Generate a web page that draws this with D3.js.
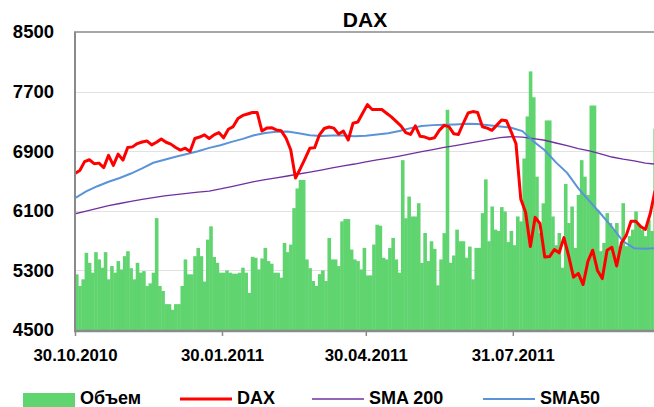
<!DOCTYPE html>
<html lang="ru">
  <head>
    <meta charset="UTF-8" />
    <title>DAX</title>
    <script src="https://cdn.jsdelivr.net/npm/d3@7"></script>
    <style>
      body { margin: 0; background: #fff; }
      svg { display: block; font-family: 'Liberation Sans', Arial, sans-serif; font-weight: bold; }
    </style>
  </head>
  <body>
    <div id="container"></div>
    <script>
      const startDate = '30.10.2010'
      const volumeStep = 2
      const daxStep = 3
      const smaStep = 7

      const volume = [
        5247, 5091, 5180, 5536, 5402, 5269, 5545, 5447, 5336, 5545,
        5180, 5358, 5270, 5425, 5313, 5491, 5558, 5330, 5180, 5402,
        5270, 5290, 5091, 5126, 5269, 6002, 5091, 5024, 4847, 4847,
        4771, 4847, 4847, 5091, 5447, 5247, 5247, 5491, 5600, 5491,
        5150, 5713, 5891, 5480, 5402, 5269, 5269, 5300, 5269, 5256,
        5256, 5269, 5336, 5269, 4998, 5482, 5469, 5313, 5460, 5602,
        5425, 5390, 5269, 5269, 5202, 5669, 5545, 5647, 6136, 6400,
        6513, 6513, 5447, 5330, 5158, 5091, 5250, 5300, 5158, 5736,
        5447, 5447, 5358, 5958, 5989, 5989, 5580, 5447, 5425, 5313,
        5602, 5233, 5233, 5647, 5913, 5900, 5469, 5447, 5600, 5736,
        5447, 5269, 6780, 6000, 6291, 6024, 6024, 6202, 5400, 5802,
        5425, 5691, 5589, 5100, 5447, 5800, 7456, 5402, 5500, 5847,
        5691, 5691, 5470, 5620, 5180, 5602, 5602, 6069, 6522, 5691,
        6158, 5847, 5830, 6150, 6091, 5680, 5830, 5638, 6024, 5958,
        6802, 7367, 7971, 7624, 6558, 5802, 6200, 7313, 7313, 6024,
        5638, 5802, 5336, 6460, 5936, 6158, 5602, 6313, 6780, 6558,
        6313, 7513, 7513, 6113, 5558, 5669, 6069, 5936, 5847, 5936,
        5625, 6202, 5625, 5760, 5847, 6091, 5913, 5847, 5760, 5980,
        5830, 7202
      ]

      const dax = [
        6602, 6640, 6760, 6785, 6733, 6740, 6680, 6845, 6710, 6860,
        6780, 6950, 6958, 7002, 7024, 7038, 6985, 7020, 7065, 7020,
        6995, 6950, 6915, 6940, 6895, 7070, 7090, 7120, 7070, 7120,
        7150, 7080, 7195, 7230, 7340, 7380, 7400, 7420, 7420, 7170,
        7210, 7215, 7185, 7175, 7080, 6920, 6540, 6665, 6800, 6940,
        6948, 7120, 7205, 7224, 7210, 7130, 7170, 7050, 7275, 7291,
        7410, 7525, 7460, 7460, 7460, 7410, 7360, 7300, 7240, 7150,
        7125, 7240, 7100, 7090, 7065, 7080, 7180, 7247, 7230, 7135,
        7125, 7275, 7412, 7432, 7420, 7228, 7210, 7180, 7250, 7320,
        7310, 7160, 7000, 6260, 6080, 5620, 6012, 5930, 5480, 5485,
        5580, 5536, 5740, 5490, 5210, 5260, 5110, 5420, 5571, 5300,
        5190, 5570, 5610, 5360, 5670, 5770, 5960, 5960, 5890, 5850,
        6060, 6370
      ]

      const sma200 = [
        6060, 6096, 6133, 6168, 6198, 6226, 6253, 6278, 6300, 6318,
        6335, 6350, 6365, 6393, 6425, 6458, 6491, 6517, 6542, 6567,
        6594, 6620, 6647, 6675, 6702, 6728, 6758, 6783, 6808, 6835,
        6865, 6893, 6922, 6950, 6975, 7002, 7030, 7055, 7082, 7095,
        7090, 7070, 7047, 7010, 6975, 6936, 6905, 6865, 6822, 6793,
        6770, 6740, 6725
      ]

      const sma50 = [
        6269, 6360, 6430, 6490, 6540, 6600, 6670, 6745, 6785, 6826,
        6862, 6900, 6945, 6980, 7025, 7065, 7113, 7145, 7162, 7165,
        7140, 7115, 7105, 7110, 7110, 7102, 7109, 7125, 7140, 7170,
        7210, 7238, 7250, 7255, 7260, 7268, 7265, 7247, 7232, 7215,
        7170, 7030, 6913, 6750, 6610, 6400, 6230, 6060, 5885, 5690,
        5598, 5590, 5598
      ]

      const yTicks = [4500, 5300, 6100, 6900, 7700, 8500]
      const xTicks = ['30.10.2010', '30.01.2011', '30.04.2011', '31.07.2011']
      const endDate = '28.10.2011'

      const legendItems = [
        { name: 'Объем', type: 'bar', color: '#5fd46f' },
        { name: 'DAX', type: 'line', color: '#ff0000', width: 3 },
        { name: 'SMA 200', type: 'line', color: '#7030a0', width: 1.3 },
        { name: 'SMA50', type: 'line', color: '#5b93d9', width: 2 }
      ]

      // chart size and margins
      const width = 654
      const height = 407
      const marginTop = 32
      const marginLeft = 75
      const plotRight = 655
      const plotBottom = 330

      const parse = d3.timeParse('%d.%m.%Y')
      const fmt = d3.timeFormat('%d.%m.%Y')
      const t0 = parse(startDate)
      const dateAt = (i, step) => d3.timeDay.offset(t0, i * step)

      const x = d3.scaleTime()
        .domain([t0, parse(endDate)])
        .range([marginLeft, plotRight])

      const y = d3.scaleLinear()
        .domain([4500, 8500])
        .range([plotBottom, marginTop])

      const svg = d3.create('svg')
        .attr('width', width)
        .attr('height', height)
        .attr('viewBox', [0, 0, width, height])

      svg.append('defs').append('clipPath')
        .attr('id', 'plot-clip')
        .append('rect')
        .attr('x', marginLeft)
        .attr('y', marginTop - 5)
        .attr('width', plotRight - marginLeft)
        .attr('height', plotBottom - marginTop + 5)

      // title
      svg.append('text')
        .attr('x', 365)
        .attr('y', 27)
        .attr('text-anchor', 'middle')
        .attr('font-size', 21)
        .attr('fill', '#000')
        .text('DAX')

      // gridlines
      svg.append('g')
        .selectAll('line')
        .data(yTicks.slice(1, -1))
        .join('line')
        .attr('x1', marginLeft)
        .attr('x2', plotRight)
        .attr('y1', d => Math.round(y(d)) + 0.5)
        .attr('y2', d => Math.round(y(d)) + 0.5)
        .attr('stroke', '#e2e2e2')
        .attr('stroke-width', 1.2)

      const plot = svg.append('g').attr('clip-path', 'url(#plot-clip)')

      // volume bars
      plot.append('g')
        .attr('fill', legendItems[0].color)
        .selectAll('rect')
        .data(volume)
        .join('rect')
        .attr('x', (d, i) => x(dateAt(i, volumeStep)))
        .attr('width', (d, i) => x(dateAt(i + 1, volumeStep)) - x(dateAt(i, volumeStep)) + 0.4)
        .attr('y', d => y(d))
        .attr('height', d => y(4500) - y(d))

      const line = step => d3.line()
        .x((d, i) => x(dateAt(i, step)))
        .y(d => y(d))

      plot.append('path')
        .datum(sma200)
        .attr('fill', 'none')
        .attr('stroke', legendItems[2].color)
        .attr('stroke-width', legendItems[2].width)
        .attr('d', line(smaStep))

      plot.append('path')
        .datum(sma50)
        .attr('fill', 'none')
        .attr('stroke', legendItems[3].color)
        .attr('stroke-width', legendItems[3].width)
        .attr('d', line(smaStep))

      plot.append('path')
        .datum(dax)
        .attr('fill', 'none')
        .attr('stroke', legendItems[1].color)
        .attr('stroke-width', legendItems[1].width)
        .attr('stroke-linejoin', 'round')
        .attr('d', line(daxStep))

      // frame: top border
      svg.append('line')
        .attr('x1', marginLeft - 1).attr('x2', width)
        .attr('y1', marginTop).attr('y2', marginTop)
        .attr('stroke', '#8a8a8a').attr('stroke-width', 1.5)

      // y axis
      svg.append('g')
        .attr('id', 'y-axis')
        .attr('transform', `translate(${marginLeft}, 0)`)
        .call(d3.axisLeft(y)
          .tickValues(yTicks)
          .tickFormat(d3.format('d'))
          .tickSize(0)
          .tickPadding(21))
        .call(g => g.select('.domain')
          .attr('stroke', '#8a8a8a')
          .attr('stroke-width', 2)
          .attr('d', `M0,${marginTop}V${plotBottom + 1}`))
        .call(g => g.selectAll('text')
          .attr('font-family', null)
          .attr('font-size', 18.5)
          .attr('fill', '#000'))

      // x axis
      svg.append('g')
        .attr('id', 'x-axis')
        .attr('transform', `translate(0, ${plotBottom + 1})`)
        .call(d3.axisBottom(x)
          .tickValues(xTicks.map(parse))
          .tickFormat(fmt)
          .tickSize(5)
          .tickPadding(13))
        .call(g => g.select('.domain')
          .attr('stroke', '#8a8a8a')
          .attr('stroke-width', 2.5)
          .attr('d', `M${marginLeft - 1},0H${width}`))
        .call(g => g.selectAll('.tick line')
          .attr('stroke', '#8a8a8a')
          .attr('stroke-width', 1.5))
        .call(g => g.selectAll('text')
          .attr('font-family', null)
          .attr('font-size', 16.8)
          .attr('fill', '#000'))

      // legend
      const legendX = [23, 180, 312, 483]
      const legend = svg.append('g').attr('id', 'legend')
      legendItems.forEach((item, i) => {
        const g = legend.append('g').attr('transform', `translate(${legendX[i]}, 0)`)
        if (item.type === 'bar') {
          g.append('rect')
            .attr('x', 0).attr('y', 393)
            .attr('width', 52).attr('height', 14)
            .attr('fill', item.color)
        } else {
          g.append('line')
            .attr('x1', 0).attr('x2', 52)
            .attr('y1', 399).attr('y2', 399)
            .attr('stroke', item.color)
            .attr('stroke-width', item.width)
        }
        g.append('text')
          .attr('x', 57)
          .attr('y', 404)
          .attr('font-size', 18)
          .attr('fill', '#000')
          .text(item.name)
      })

      container.append(svg.node())
    </script>
  </body>
</html>
